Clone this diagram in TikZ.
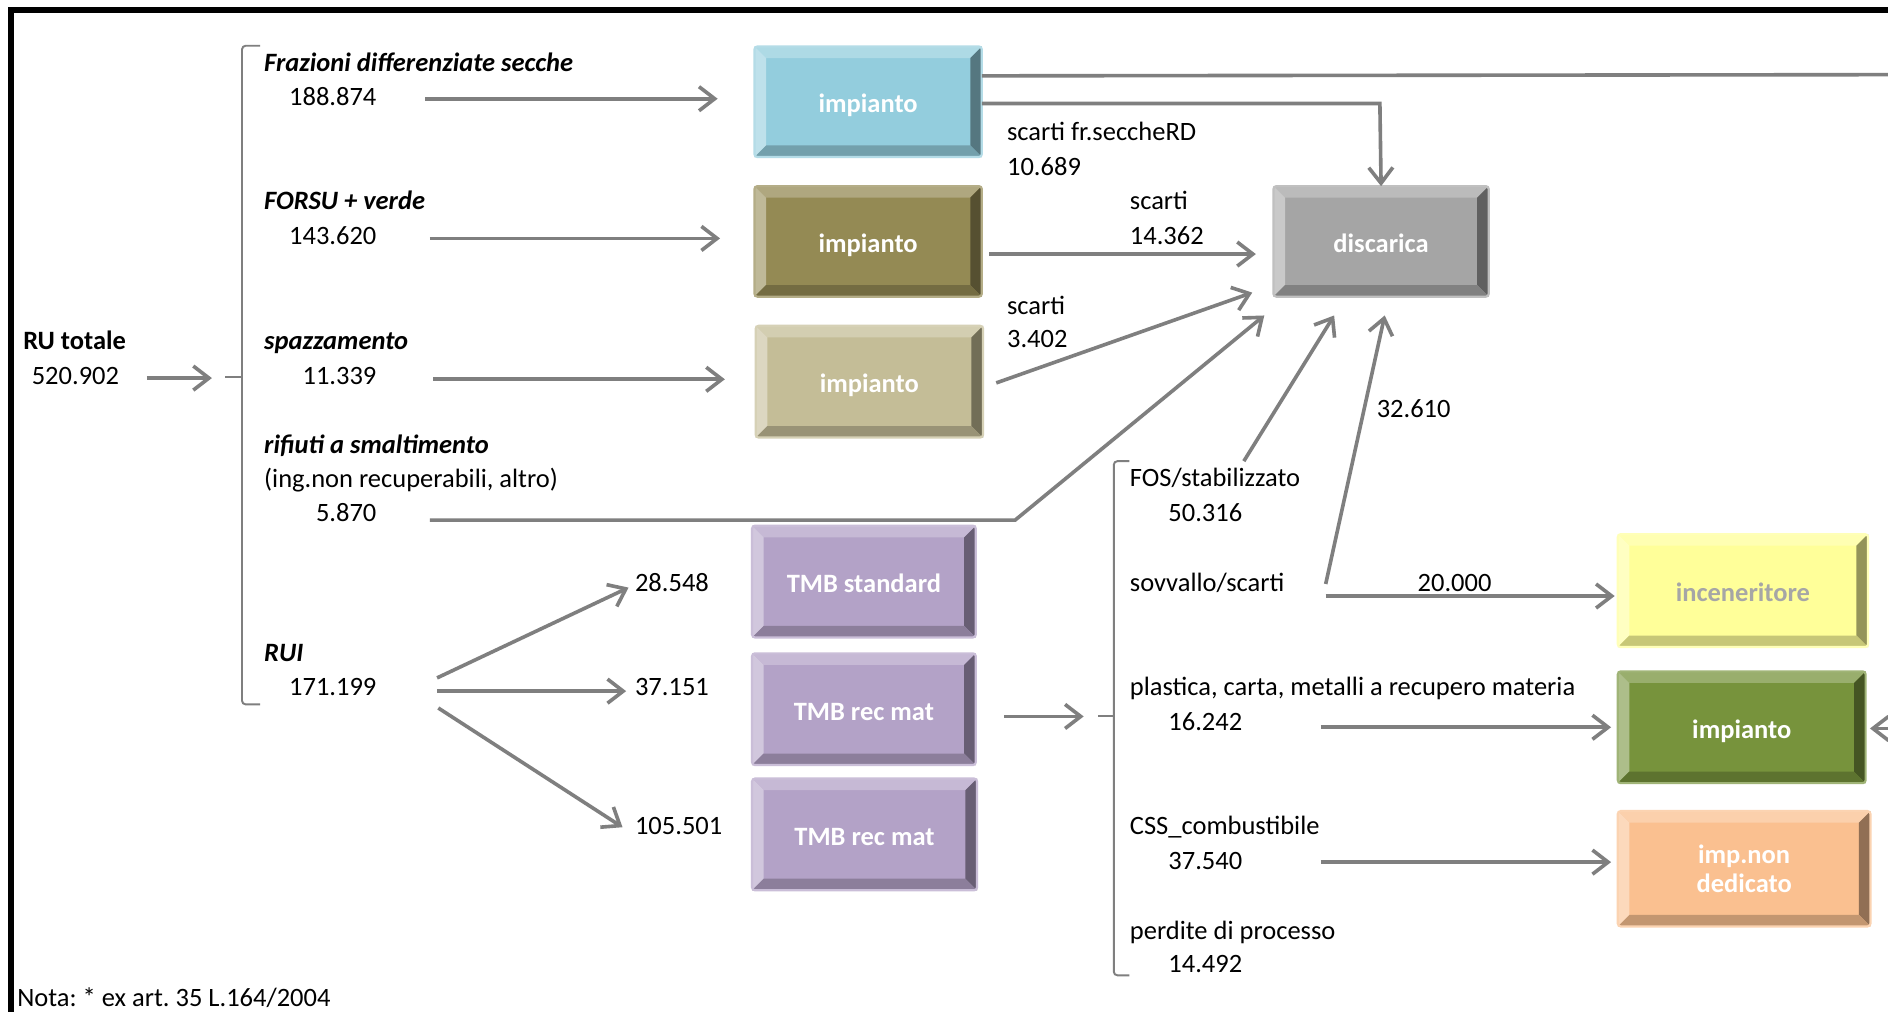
\documentclass[tikz,border=0pt]{standalone}
\usepackage{fontspec}
\setmainfont{Carlito}
\usetikzlibrary{arrows.meta,calc}
\definecolor{arr}{HTML}{7F7F7F}
\definecolor{cblue}{HTML}{93CDDD}
\definecolor{colive}{HTML}{948A54}
\definecolor{ctan}{HTML}{C4BD97}
\definecolor{cgrey}{HTML}{A5A5A5}
\definecolor{cpurp}{HTML}{B3A2C7}
\definecolor{cyell}{HTML}{FFFF99}
\definecolor{cgreen}{HTML}{77933C}
\definecolor{corange}{HTML}{FAC090}
\definecolor{inctext}{HTML}{A6A6A6}
\newcommand{\myfs}{\fontsize{11}{13}\selectfont}
\newcommand{\bt}[1]{\raisebox{-1.5pt}[7pt][1pt]{#1}}
\def\bvw{4.8pt}
\tikzset{
  lbl/.style={anchor=base west, inner sep=0pt, font=\myfs},
  bilbl/.style={anchor=base west, inner sep=0pt, font=\myfs\bfseries\itshape},
  boldlbl/.style={anchor=base west, inner sep=0pt, font=\myfs\bfseries},
  numr/.style={anchor=base east, inner sep=0pt, font=\myfs},
  bxs/.style={inner sep=0pt, text=white, font=\myfs\bfseries, align=center},
  ar/.style={draw=arr, line width=1.5pt, -{Straight Barb[length=6.5pt,width=10pt]}},
  ln/.style={draw=arr, line width=1.5pt},
  brk/.style={draw=arr, line width=0.8pt, rounded corners=1.5pt}
}
% name, x, y, width(pt), height(pt), colour, text
\newcommand{\bevbox}[7]{%
  \node[bxs, fill=#6, minimum width=#4pt, minimum height=#5pt] (#1) at (#2,#3) {#7};
  \fill[#6!75!white] (#1.north west) -- (#1.north east) -- ($(#1.north east)+(-\bvw,-\bvw)$) -- ($(#1.north west)+(\bvw,-\bvw)$) -- cycle;
  \fill[#6!60!white] (#1.north west) -- ($(#1.north west)+(\bvw,-\bvw)$) -- ($(#1.south west)+(\bvw,\bvw)$) -- (#1.south west) -- cycle;
  \fill[#6!58!black] (#1.north east) -- (#1.south east) -- ($(#1.south east)+(-\bvw,\bvw)$) -- ($(#1.north east)+(-\bvw,-\bvw)$) -- cycle;
  \fill[#6!78!black] (#1.south west) -- (#1.south east) -- ($(#1.south east)+(-\bvw,\bvw)$) -- ($(#1.south west)+(\bvw,\bvw)$) -- cycle;
  \draw[#6!70!white, line width=0.9pt, rounded corners=1.2pt] (#1.north west) rectangle (#1.south east);
}
\begin{document}
\frenchspacing
\begin{tikzpicture}[x=0.5pt,y=-0.5pt]
\useasboundingbox (0,0) rectangle (1568,840);
\fill[white] (0,0) rectangle (1568,840);
% frame
\draw[black, line width=2.4pt] (9,850) -- (9,8.5) -- (1580,8.5);

% boxes
\bevbox{b1}{721}{84.5}{94}{45.5}{cblue}{\bt{impianto}}
\bevbox{b2}{721}{200.5}{94}{45.5}{colive}{\bt{impianto}}
\bevbox{b3}{722}{317}{94}{46}{ctan}{\bt{impianto}}
\bevbox{disc}{1147}{200.5}{89}{45.5}{cgrey}{\bt{discarica}}
\bevbox{tmb1}{717.5}{483}{92.5}{46}{cpurp}{\bt{TMB standard}}
\bevbox{tmb2}{717.5}{589}{92.5}{46}{cpurp}{\bt{TMB rec mat}}
\bevbox{tmb3}{718}{693}{93}{46}{cpurp}{\bt{TMB rec mat}}
\bevbox{inc}{1447.5}{490.5}{103.5}{46.5}{cyell}{\bt{\color{inctext}inceneritore}}
\bevbox{imp}{1446.5}{604}{102.5}{46}{cgreen}{\bt{impianto}}
\bevbox{nond}{1448.5}{721.5}{104.5}{47.5}{corange}{imp.non\\[-1pt]dedicato}

% left texts
\node[boldlbl] (rut) at (19,290) {RU totale};
\node[lbl] (run) at (26,319) {520.902};
\node[bilbl] (fr) at (219,59) {Frazioni differenziate secche};
\node[numr] (frn) at (313,88) {188.874};
\node[bilbl] (fo) at (219,174) {FORSU + verde};
\node[numr] (fon) at (313,203) {143.620};
\node[bilbl] (sp) at (219,290) {spazzamento};
\node[numr] (spn) at (313,319) {11.339};
\node[bilbl] (ri) at (219,377) {rifiuti a smaltimento};
\node[lbl] (ri2) at (219,405) {(ing.non recuperabili, altro)};
\node[numr] (rin) at (313,433) {5.870};
\node[bilbl] (rui) at (219,549) {RUI};
\node[numr] (ruin) at (313,578) {171.199};
\node[lbl] (t1) at (527,491) {28.548};
\node[lbl] (t2) at (527,578) {37.151};
\node[lbl] (t3) at (527,693) {105.501};

% middle labels
\node[lbl] (s1) at (836,117) {scarti fr.seccheRD};
\node[lbl] (s1n) at (836,146) {10.689};
\node[lbl] (s2) at (938,174) {scarti};
\node[lbl] (s2n) at (938,203) {14.362};
\node[lbl] (s3) at (836,261) {scarti};
\node[lbl] (s3n) at (836,289) {3.402};
\node[lbl] (s4n) at (1143,347) {32.610};

% right column texts
\node[lbl] (fos) at (938,404) {FOS/stabilizzato};
\node[lbl] (fosn) at (970,433) {50.316};
\node[lbl] (sov) at (938,491) {sovvallo/scarti};
\node[lbl] (sovn) at (1177,491) {20.000};
\node[lbl] (pla) at (938,578) {plastica, carta, metalli a recupero materia};
\node[lbl] (plan) at (970,607) {16.242};
\node[lbl] (css) at (938,693) {CSS\_combustibile};
\node[lbl] (cssn) at (970,722) {37.540};
\node[lbl] (per) at (938,780) {perdite di processo};
\node[lbl] (pern) at (970,808) {14.492};
\node[lbl] (nota) at (14,836) {Nota: * ex art. 35 L.164/2004};

% brackets
\draw[brk] (216,38) -- (201,38) -- (201,585) -- (216,585);
\draw[draw=arr, line width=0.8pt] (187,313) -- (201,313);
\draw[brk] (938,383) -- (925,383) -- (925,810) -- (938,810);
\draw[draw=arr, line width=0.8pt] (912,595) -- (925,595);

% connector coordinates
\coordinate (ru0) at (122,314);   \coordinate (ru1) at (176,314);
\coordinate (a1s) at (353,82);    \coordinate (a1e) at (596,82);
\coordinate (a2s) at (357,198);   \coordinate (a2e) at (598,198);
\coordinate (a3s) at (360,315);   \coordinate (a3e) at (602,315);
\coordinate (a4s) at (357,432);   \coordinate (a4m) at (843,432);   \coordinate (a4e) at (1050,262);
\coordinate (topr) at (1570,62);
\coordinate (b1k) at (1146,86);
\coordinate (b2e) at (1043,211);
\coordinate (b3e) at (1040,243);
\coordinate (fos0) at (1033,383); \coordinate (fose) at (1108,262);
\coordinate (sov0) at (1101,485); \coordinate (sove) at (1150,262);
\coordinate (sov1) at (1101,495); \coordinate (sov2) at (1341,495);
\coordinate (pl0) at (1097,604);  \coordinate (pl1) at (1338,604);
\coordinate (cs0) at (1097,716);  \coordinate (cs1) at (1338,716);
\coordinate (rg0) at (1570,605);  \coordinate (rg1) at (1553,605);
\coordinate (r0) at (363,563);    \coordinate (r1) at (522,488);
\coordinate (r2) at (363,574);    \coordinate (r3) at (520,574);
\coordinate (r4) at (364,588);    \coordinate (r5) at (517,687);
\coordinate (tm0) at (834,595);   \coordinate (tm1) at (900,595);

% connectors
\draw[ar] (ru0) -- (ru1);
\draw[ar] (a1s) -- (a1e);
\draw[ar] (a2s) -- (a2e);
\draw[ar] (a3s) -- (a3e);
\draw[ar] (a4s) -- (a4m) -- (a4e);
\draw[ln] ([yshift=10.75pt]b1.east) -- (topr);
\draw[ar] ([yshift=-0.75pt]b1.east) -- (b1k) -- (disc.north);
\draw[ar] ([xshift=3pt,yshift=-5.25pt]b2.east) -- (b2e);
\draw[ar] ([xshift=5.5pt,yshift=-0.5pt]b3.east) -- (b3e);
\draw[ar] (fos0) -- (fose);
\draw[ar] (sov0) -- (sove);
\draw[ar] (sov1) -- (sov2);
\draw[ar] (pl0) -- (pl1);
\draw[ar] (cs0) -- (cs1);
\draw[ar] (rg0) -- (rg1);
\draw[ar] (r0) -- (r1);
\draw[ar] (r2) -- (r3);
\draw[ar] (r4) -- (r5);
\draw[ar] (tm0) -- (tm1);
\end{tikzpicture}
\end{document}
